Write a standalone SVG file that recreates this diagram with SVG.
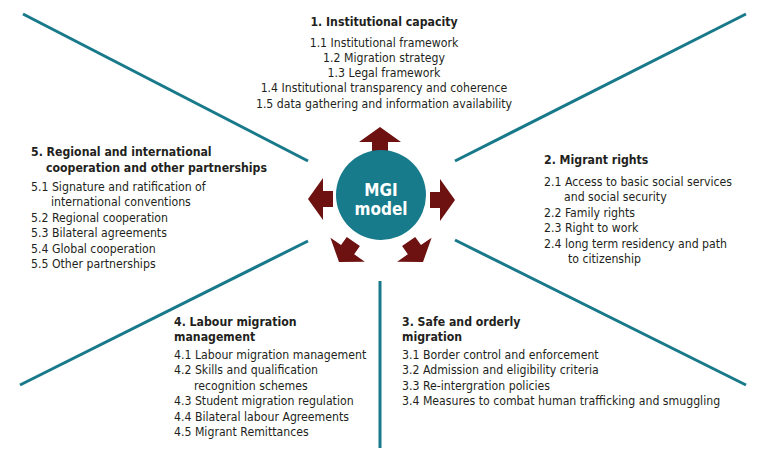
<svg xmlns="http://www.w3.org/2000/svg" width="768" height="468" viewBox="0 0 768 468">
<defs>
<style>
.ln{stroke:#17798a;stroke-width:3;fill:none;stroke-linecap:butt}
.t{font-family:"DejaVu Sans Condensed","DejaVu Sans",sans-serif;font-stretch:condensed;font-size:12.2px;fill:#231f20}
.h{font-family:"DejaVu Sans Condensed","DejaVu Sans",sans-serif;font-stretch:condensed;font-size:12.2px;font-weight:bold;fill:#231f20}
.arr{fill:#6d1111}
.mgi{font-family:"DejaVu Sans Condensed","DejaVu Sans",sans-serif;font-stretch:condensed;font-size:17px;font-weight:bold;fill:#ffffff;text-anchor:middle}
</style>
<path id="arrow" d="M0,0 L-15,-21 L-15,-8 L-25,-8 L-25,8 L-15,8 L-15,21 Z"/>
</defs>
<rect width="768" height="468" fill="#ffffff"/>
<g id="connectors">
<line class="ln" x1="23" y1="14" x2="308" y2="161"/>
<line class="ln" x1="746" y1="14" x2="455" y2="161"/>
<line class="ln" x1="20" y1="385" x2="308" y2="241"/>
<line class="ln" x1="746" y1="385" x2="455" y2="240"/>
<line class="ln" x1="380" y1="281" x2="380" y2="448"/>
</g>
<g id="mgi-model">
<g class="arr">
<use href="#arrow" transform="translate(380,127) rotate(-90)"/>
<use href="#arrow" transform="translate(455,200)"/>
<use href="#arrow" transform="translate(308,199) rotate(180)"/>
<use href="#arrow" transform="translate(339,262) rotate(125)"/>
<use href="#arrow" transform="translate(423,262) rotate(55)"/>
</g>
<circle cx="381" cy="195" r="45" fill="#177b8b"/>
<text class="mgi" x="381" y="195.5">MGI</text>
<text class="mgi" x="381" y="214.5">model</text>
</g>
<g id="s1" text-anchor="middle">
<text class="h" x="384" y="26">1. Institutional capacity</text>
<text class="t" x="384" y="46.5">1.1 Institutional framework</text>
<text class="t" x="384" y="61.5">1.2 Migration strategy</text>
<text class="t" x="384" y="77">1.3 Legal framework</text>
<text class="t" x="384" y="92">1.4 Institutional transparency and coherence</text>
<text class="t" x="384" y="107.5">1.5 data gathering and information availability</text>
</g>
<g id="s2">
<text class="h" x="544" y="164">2. Migrant rights</text>
<text class="t" x="544" y="185.5">2.1 Access to basic social services</text>
<text class="t" x="564" y="201">and social security</text>
<text class="t" x="544" y="216.5">2.2 Family rights</text>
<text class="t" x="544" y="232">2.3 Right to work</text>
<text class="t" x="544" y="247.5">2.4 long term residency and path</text>
<text class="t" x="568" y="263">to citizenship</text>
</g>
<g id="s3">
<text class="h" x="402" y="326">3. Safe and orderly</text>
<text class="h" x="402" y="341">migration</text>
<text class="t" x="402" y="358.5">3.1 Border control and enforcement</text>
<text class="t" x="402" y="374">3.2 Admission and eligibility criteria</text>
<text class="t" x="402" y="389.5">3.3 Re-intergration policies</text>
<text class="t" x="402" y="405">3.4 Measures to combat human trafficking and smuggling</text>
</g>
<g id="s4">
<text class="h" x="174" y="325.5">4. Labour migration</text>
<text class="h" x="174" y="341">management</text>
<text class="t" x="174" y="358.5">4.1 Labour migration management</text>
<text class="t" x="174" y="374">4.2 Skills and qualification</text>
<text class="t" x="194" y="389.5">recognition schemes</text>
<text class="t" x="174" y="405">4.3 Student migration regulation</text>
<text class="t" x="174" y="420.5">4.4 Bilateral labour Agreements</text>
<text class="t" x="174" y="436">4.5 Migrant Remittances</text>
</g>
<g id="s5">
<text class="h" x="31" y="156">5. Regional and international</text>
<text class="h" x="46" y="172">cooperation and other partnerships</text>
<text class="t" x="31" y="190.5">5.1 Signature and ratification of</text>
<text class="t" x="51" y="206">international conventions</text>
<text class="t" x="31" y="221.5">5.2 Regional cooperation</text>
<text class="t" x="31" y="237">5.3 Bilateral agreements</text>
<text class="t" x="31" y="252.5">5.4 Global cooperation</text>
<text class="t" x="31" y="268">5.5 Other partnerships</text>
</g>
</svg>
